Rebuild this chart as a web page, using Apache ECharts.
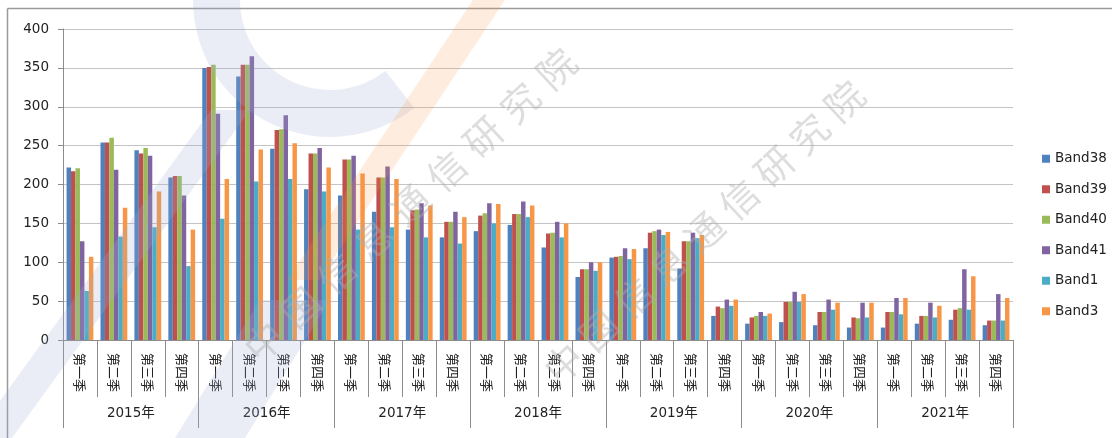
<!DOCTYPE html>
<html>
<head>
<meta charset="utf-8">
<script src="https://cdn.jsdelivr.net/npm/echarts@6/dist/echarts.min.js"></script>
<style>
html,body{margin:0;padding:0;background:#fff;}
#chart{width:1112px;height:438px;}
</style>
</head>
<body>
<div id="chart"></div>
<script>
const years = ['2015年','2016年','2017年','2018年','2019年','2020年','2021年'];
const quarters = ['第一季','第二季','第三季','第四季'];
const seriesNames = ['Band38','Band39','Band40','Band41','Band1','Band3'];
const yTicks = {min: 0, max: 400, interval: 50};

const band38 = [222,254,244,209, 350,339,246,194, 186,165,142,132, 140,148,119,81, 106,118,92,31, 21,23,19,16, 16,21,26,19];
const band39 = [217,254,240,211, 351,354,270,240, 232,209,167,152, 160,162,137,91, 107,138,127,43, 29,49,36,29, 36,31,39,25];
const band40 = [221,260,247,211, 354,354,271,240, 232,209,168,152, 163,162,138,91, 108,140,127,41, 31,49,36,28, 36,31,41,25];
const band41 = [127,219,237,186, 291,365,289,247, 237,223,176,165, 176,178,152,100, 118,142,138,52, 36,62,52,48, 54,48,91,59];
const band1  = [63,133,145,95, 156,204,207,191, 142,145,132,124, 150,158,132,89, 104,135,131,44, 31,49,39,29, 33,29,39,25];
const band3  = [107,170,191,142, 207,245,253,222, 214,207,173,158, 175,173,150,100, 117,139,135,52, 34,59,48,48, 54,44,82,54];

const watermarkText = '中国信息通信研究院';

const colors = ['#4F81BD','#C0504D','#9BBB59','#8064A2','#4BACC6','#F79646'];
const allData = [band38, band39, band40, band41, band1, band3];
const quarterLabels = [];
years.forEach(() => quarters.forEach(q => quarterLabels.push(q)));

const NUM_FONT = '"DejaVu Sans", "Noto Sans CJK SC", sans-serif';
const CJK_FONT = '"Noto Sans CJK SC", "DejaVu Sans", sans-serif';
const axisGrey = '#8c8c8c';

// watermark characters laid out along a diagonal
function wmChars(cx, cy, step, angDeg, size) {
  const a = angDeg * Math.PI / 180;
  const n = watermarkText.length;
  const out = [];
  for (let i = 0; i < n; i++) {
    const d = (i - (n - 1) / 2) * step;
    out.push({
      type: 'text', z: 100, silent: true,
      x: cx + d * Math.cos(a), y: cy - d * Math.sin(a),
      rotation: a,
      style: {
        text: watermarkText[i], font: size + 'px "Noto Sans CJK SC"',
        fill: 'rgba(175,175,175,0.42)', align: 'center', verticalAlign: 'middle'
      }
    });
  }
  return out;
}

const wmBlue = 'rgba(160,174,208,0.22)';
const graphics = [
  // outer frame
  {type: 'line', z: 0, silent: true, shape: {x1: 7.5, y1: 8.5, x2: 1112, y2: 8.5}, style: {stroke: '#9a9a9a', lineWidth: 1.5}},
  {type: 'line', z: 0, silent: true, shape: {x1: 7.5, y1: 8.5, x2: 7.5, y2: 438}, style: {stroke: '#9a9a9a', lineWidth: 1.5}},
  // logo-like watermark shapes
  {type: 'sector', z: 99, silent: true,
    shape: {cx: 330, cy: 0, r: 137, r0: 90, startAngle: 52 * Math.PI / 180, endAngle: 200 * Math.PI / 180, clockwise: true},
    style: {fill: wmBlue}},
  {type: 'polygon', z: 99, silent: true,
    shape: {points: [[-27,438],[12,438],[250,110],[211,110]]},
    style: {fill: wmBlue}},
  {type: 'polygon', z: 99, silent: true,
    shape: {points: [[175,438],[245,438],[330,300],[260,300]]},
    style: {fill: wmBlue}},
  {type: 'polygon', z: 99, silent: true,
    shape: {points: [[473,0],[505,0],[319,280],[287,280]]},
    style: {fill: 'rgba(247,150,70,0.18)'}}
].concat(wmChars(410, 205, 50, 43, 38)).concat(wmChars(704, 232, 48, 43, 38));

const chart = echarts.init(document.getElementById('chart'), null, {renderer: 'canvas'});
chart.setOption({
  animation: false,
  backgroundColor: '#fff',
  color: colors,
  grid: {left: 63, right: 99, top: 29, bottom: 98, containLabel: false},
  legend: {
    orient: 'vertical', left: 1037, top: 147,
    itemWidth: 8, itemHeight: 8, itemGap: 17, icon: 'rect',
    textStyle: {fontSize: 13.5, fontFamily: NUM_FONT, color: '#222'},
    data: seriesNames
  },
  xAxis: [
    {
      type: 'category', data: quarterLabels, position: 'bottom',
      axisLine: {show: true, lineStyle: {color: axisGrey, width: 1}},
      axisTick: {show: true, interval: 0, length: 57, lineStyle: {color: axisGrey}},
      axisLabel: {interval: 0, rotate: -90, margin: 13, fontSize: 13, fontFamily: CJK_FONT, color: '#222'}
    },
    {
      type: 'category', data: years, position: 'bottom', offset: 0,
      axisLine: {show: false},
      axisTick: {show: true, interval: 0, length: 88, lineStyle: {color: axisGrey}},
      axisLabel: {interval: 0, margin: 67, fontSize: 13.5, fontFamily: NUM_FONT, color: '#222'}
    }
  ],
  yAxis: {
    type: 'value', min: yTicks.min, max: yTicks.max, interval: yTicks.interval,
    axisLine: {show: true, lineStyle: {color: axisGrey}},
    axisTick: {show: true, length: 5, lineStyle: {color: axisGrey}},
    axisLabel: {margin: 14, fontSize: 13.5, fontFamily: NUM_FONT, color: '#222'},
    splitLine: {show: true, lineStyle: {color: '#c4c4c4', width: 1}}
  },
  series: seriesNames.map((name, i) => ({
    name: name, type: 'bar', xAxisIndex: 0, data: allData[i],
    barGap: '0%', barCategoryGap: '21%',
    itemStyle: {color: colors[i]}
  })),
  graphic: graphics
});
</script>
</body>
</html>
